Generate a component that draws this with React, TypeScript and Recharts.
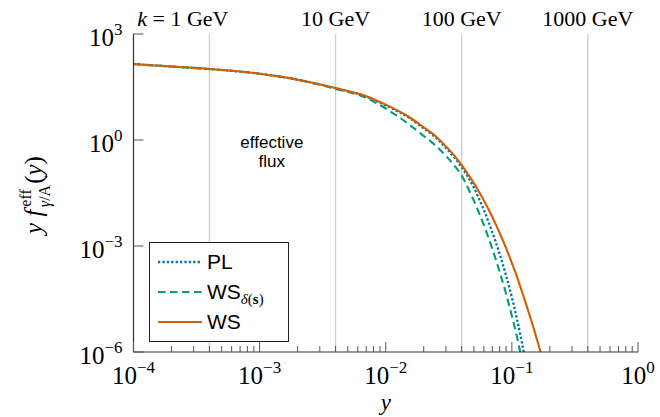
import React from 'react';
import { LineChart, Line, XAxis, YAxis, ReferenceLine, ReferenceDot, Legend } from 'recharts';

// momentum fraction y and the three effective photon fluxes y f(y)
const yFrac = [
  1e-4, 2e-4, 4e-4, 1e-3, 2e-3, 4e-3, 7e-3, 0.01, 0.015, 0.02, 0.025, 0.03, 0.035, 0.04, 0.045, 0.05,
  0.055, 0.06, 0.065, 0.07, 0.075, 0.08, 0.09, 0.1, 0.11, 0.12, 0.13, 0.14, 0.15, 0.16, 0.17, 0.18,
];
const plFlux = [
  141, 120, 102, 75, 51, 29.3, 17, 9.5, 4.45, 2.14, 1.16, 0.6, 0.32, 0.17, 0.089, 0.0447,
  0.0214, 0.0105, 5.0e-3, 2.45e-3, 1.2e-3, 5.9e-4, 1.45e-4, 3.5e-5, 8.3e-6, 1.86e-6, 4.4e-7, null, null, null, null, null,
];
const wsDeltaFlux = [
  141, 120, 102, 75, 51, 28, 15.5, 7.8, 2.9, 1.3, 0.68, 0.355, 0.19, 0.098, 0.043, 0.019,
  8.5e-3, 3.9e-3, 1.78e-3, 8.3e-4, 3.9e-4, 1.86e-4, 4.4e-5, 1.05e-5, 2.6e-6, 5.9e-7, 1.5e-7, null, null, null, null, null,
];
const wsFlux = [
  141, 120, 102, 75, 51, 29.5, 17.4, 10, 4.7, 2.29, 1.26, 0.66, 0.363, 0.195, 0.107, 0.06,
  0.0339, 0.0195, 0.0112, 6.6e-3, 3.9e-3, 2.34e-3, 8.7e-4, 3.3e-4, 1.32e-4, 5.2e-5, 2.2e-5, 9.5e-6, 4.3e-6, 1.95e-6, 9.1e-7, 4.4e-7,
];

const xDecades = [1e-4, 1e-3, 1e-2, 1e-1, 1];
const minorSteps = [2, 3, 4, 5, 6, 7, 8, 9];
const yDecades = [1e-6, 1e-3, 1, 1e3];
const energyLines = [4e-4, 4e-3, 4e-2, 4e-1];
const energyLabels = ['1 GeV', '10 GeV', '100 GeV', '1000 GeV'];

const xTicks = [...xDecades, ...xDecades.slice(0, -1).flatMap((d) => minorSteps.map((m) => m * d))];

const data = yFrac.map((y, i) => ({ y, pl: plFlux[i], wsd: wsDeltaFlux[i], ws: wsFlux[i] }));

const SERIES = [
  { key: 'pl', name: 'PL', sub: '', color: '#0072B2', dash: '2.3 2.1', width: 2.3 },
  { key: 'wsd', name: 'WS', sub: 'δ', color: '#009E73', dash: '7.5 4.5', width: 2.1 },
  { key: 'ws', name: 'WS', sub: '', color: '#D55E00', dash: undefined, width: 2.1 },
];

const SERIF = 'Liberation Serif, DejaVu Serif, serif';
const SANS = 'Liberation Sans, Arial, sans-serif';
const AXIS = '#333';
const TICK = '#555';

const isDecade = (v: number) => Math.abs(Math.log10(v) - Math.round(Math.log10(v))) < 1e-9;
const expText = (v: number) => {
  const e = Math.round(Math.log10(v));
  return e < 0 ? `\u2212${-e}` : `${e}`;
};

const BottomTick = (props: any) => {
  const { x, y, payload } = props;
  const major = isDecade(payload.value);
  return (
    <g>
      <line x1={x} x2={x} y1={y} y2={y - (major ? 10 : 6)} stroke={TICK} strokeWidth={1} />
      {major && (
        <text x={x} y={y + 32} textAnchor="middle" fontFamily={SERIF} fontSize={25} fill="#000">
          10<tspan dy={-11} fontSize={17}>{expText(payload.value)}</tspan>
        </text>
      )}
    </g>
  );
};

const TopTick = (props: any) => {
  const { x, y, payload } = props;
  const major = isDecade(payload.value);
  return <line x1={x} x2={x} y1={y} y2={y + (major ? 10 : 6)} stroke={TICK} strokeWidth={1} />;
};

const LeftTick = (props: any) => {
  const { x, y, payload } = props;
  return (
    <g>
      <line x1={x} x2={x + 10} y1={y} y2={y} stroke={TICK} strokeWidth={1} />
      <text x={x - 11} y={y + 12} textAnchor="end" fontFamily={SERIF} fontSize={25} fill="#000">
        10<tspan dy={-11} fontSize={17}>{expText(payload.value)}</tspan>
      </text>
    </g>
  );
};

const RightTick = (props: any) => {
  const { x, y } = props;
  return <line x1={x} x2={x - 10} y1={y} y2={y} stroke={TICK} strokeWidth={1} />;
};

const energyLabel = (i: number) => (props: any) => {
  const vb = props.viewBox || {};
  if (i === 0) {
    return (
      <text x={vb.x + 19} y={vb.y - 8} textAnchor="end" fontFamily={SERIF} fontSize={22} fill="#000">
        <tspan fontStyle="italic">k</tspan> = {energyLabels[i]}
      </text>
    );
  }
  return (
    <text x={vb.x} y={vb.y - 8} textAnchor="middle" fontFamily={SERIF} fontSize={22} fill="#000">
      {energyLabels[i]}
    </text>
  );
};

const NoteLabel = (props: any) => {
  const vb = props.viewBox || {};
  return (
    <g fontFamily={SANS} fontSize={17} fill="#000" textAnchor="middle">
      <text x={vb.x} y={vb.y + 7.5}>effective</text>
      <text x={vb.x} y={vb.y + 26.5}>flux</text>
    </g>
  );
};

const LegendBox = () => (
  <svg width={140} height={100} style={{ display: 'block' }}>
    <rect x={0.5} y={0.5} width={139} height={99} fill="#fff" stroke="#222" strokeWidth={1} />
    {SERIES.map((s, i) => {
      const cy = 20 + i * 30;
      return (
        <g key={s.key}>
          <line x1={9} x2={53} y1={cy} y2={cy} stroke={s.color} strokeWidth={s.width} strokeDasharray={s.dash} />
          <text x={58} y={cy + 7} fontFamily={SANS} fontSize={21} fill="#000">
            {s.name}
            {s.sub && (
              <tspan dy={5} fontSize={15} fontFamily={SERIF}>
                <tspan fontStyle="italic">{s.sub}</tspan>(<tspan fontWeight="bold">s</tspan>)
              </tspan>
            )}
          </text>
        </g>
      );
    })}
  </svg>
);

const YLabel = (props: any) => {
  const vb = props.viewBox || { x: 0, y: 34, width: 133, height: 318 };
  const cx = 42;
  const cy = vb.y + vb.height / 2 + 2;
  return (
    <text x={cx} y={cy} transform={`rotate(-90 ${cx} ${cy})`} textAnchor="middle" fontFamily={SERIF} fontSize={25} fill="#000">
      <tspan fontStyle="italic">y f</tspan>
      <tspan dx={3} dy={-11} fontSize={16}>eff</tspan>
      <tspan dx={-18} dy={19} fontSize={16}>
        <tspan fontStyle="italic">γ</tspan>/A
      </tspan>
      <tspan dx={1} dy={-8}>(</tspan>
      <tspan fontStyle="italic">y</tspan>
      <tspan>)</tspan>
    </text>
  );
};

const XLabel = (props: any) => {
  const vb = props.viewBox || { x: 133, y: 352, width: 505, height: 65 };
  return (
    <text x={vb.x + vb.width / 2} y={vb.y + 58} textAnchor="middle" fontFamily={SERIF} fontSize={23} fontStyle="italic" fill="#000">
      y
    </text>
  );
};

export default function App() {
  return (
    <div style={{ width: 660, height: 417, background: '#fff' }}>
      <style>{'body{margin:0}'}</style>
      <LineChart width={660} height={417} data={data} margin={{ top: 34, right: 22, bottom: 0, left: 0 }}>
        <XAxis
          dataKey="y"
          type="number"
          scale="log"
          domain={[1e-4, 1]}
          allowDataOverflow
          ticks={xTicks}
          interval={0}
          height={65}
          tickSize={0}
          tickMargin={0}
          tickLine={false}
          tick={(p: any) => <BottomTick {...p} />}
          axisLine={{ stroke: AXIS, strokeWidth: 1.2 }}
          label={(p: any) => <XLabel {...p} />}
        />
        <XAxis
          xAxisId="top"
          dataKey="y"
          orientation="top"
          type="number"
          scale="log"
          domain={[1e-4, 1]}
          allowDataOverflow
          ticks={xTicks}
          interval={0}
          height={0}
          tickSize={0}
          tickMargin={0}
          tickLine={false}
          tick={(p: any) => <TopTick {...p} />}
          axisLine={{ stroke: AXIS, strokeWidth: 1.2 }}
        />
        <YAxis
          type="number"
          scale="log"
          domain={[1e-6, 1e3]}
          allowDataOverflow
          ticks={yDecades}
          interval={0}
          width={133.5}
          tickSize={0}
          tickMargin={0}
          tickLine={false}
          tick={(p: any) => <LeftTick {...p} />}
          axisLine={{ stroke: AXIS, strokeWidth: 1.2 }}
          label={(p: any) => <YLabel {...p} />}
        />
        <YAxis
          yAxisId="right"
          orientation="right"
          type="number"
          scale="log"
          domain={[1e-6, 1e3]}
          allowDataOverflow
          ticks={yDecades}
          interval={0}
          width={0}
          tickSize={0}
          tickMargin={0}
          tickLine={false}
          tick={(p: any) => <RightTick {...p} />}
          axisLine={{ stroke: AXIS, strokeWidth: 1.2 }}
        />
        {energyLines.map((x, i) => (
          <ReferenceLine key={x} x={x} stroke="#cfcfcf" strokeWidth={1.3} label={energyLabel(i)} />
        ))}
        <ReferenceDot x={1.25e-3} y={1} r={0} fill="none" stroke="none" label={(p: any) => <NoteLabel {...p} />} />
        {SERIES.map((s) => (
          <Line
            key={s.key}
            dataKey={s.key}
            name={s.name}
            type="monotone"
            stroke={s.color}
            strokeWidth={s.width}
            strokeDasharray={s.dash}
            dot={false}
            activeDot={false}
            isAnimationActive={false}
          />
        ))}
        <Legend
          layout="horizontal"
          verticalAlign="middle"
          align="center"
          wrapperStyle={{ left: 149, top: 242, width: 140, height: 100 }}
          content={() => <LegendBox />}
        />
      </LineChart>
    </div>
  );
}
